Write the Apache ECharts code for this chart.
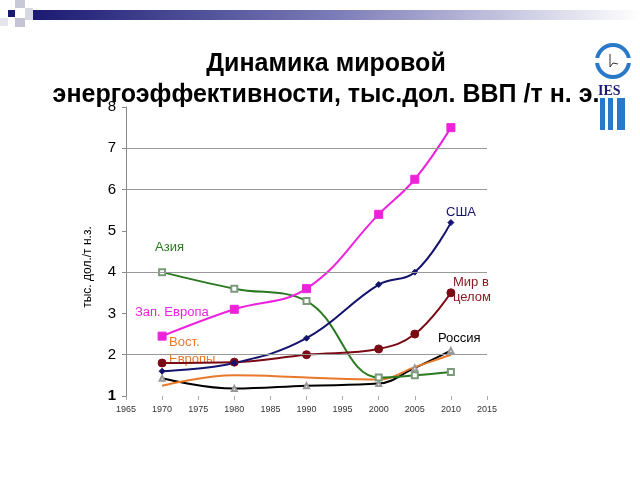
<!DOCTYPE html>
<html><head><meta charset="utf-8">
<script src="https://cdn.jsdelivr.net/npm/echarts@6/dist/echarts.min.js"></script>
<style>html,body{margin:0;padding:0;background:#fff}#c{width:640px;height:480px}</style>
</head><body><div id="c"></div>
<script>
const years = [1970, 1980, 1990, 2000, 2005, 2010];
const westEurope = [2.45, 3.1, 3.6, 5.4, 6.25, 7.5];
const usa = [1.6, 1.8, 2.4, 3.7, 4.0, 5.2];
const asia = [4.0, 3.6, 3.3, 1.45, 1.5, 1.58];
const world = [1.8, 1.82, 2.0, 2.14, 2.5, 3.5];
const eastEurope = [1.25, 1.5, 1.45, 1.4, 1.7, 2.0];
const russia = [1.43, 1.18, 1.25, 1.3, 1.68, 2.1];
const gridValues = [2, 4, 6, 7];
const titleText = 'Динамика мировой\nэнергоэффективности, тыс.дол. ВВП /т н. э.';
const yName = 'тыс. дол./т н.з.';

const pair = arr => years.map((y, i) => [y, arr[i]]);
const font = 'Liberation Sans, Arial, sans-serif';

function ser(name, data, color, symbol, size, extra) {
  return Object.assign({
    name, type: 'line', data: pair(data), smooth: 0.4,
    symbol, symbolSize: size,
    lineStyle: { color, width: 2 },
    itemStyle: { color, borderColor: color },
    z: 3
  }, extra || {});
}

const chart = echarts.init(document.getElementById('c'));
chart.setOption({
  animation: false,
  title: {
    text: titleText, left: 321, top: 44, textAlign: 'center',
    textStyle: { fontFamily: font, fontSize: 25, fontWeight: 'bold', color: '#000', lineHeight: 31 }
  },
  grid: { left: 126, right: 153, top: 107, bottom: 84 },
  xAxis: {
    type: 'value', min: 1965, max: 2015, interval: 5,
    axisLine: { show: false },
    axisTick: { show: true, length: 4, inside: false, lineStyle: { color: '#aaa' } },
    splitLine: { show: false },
    axisLabel: { fontFamily: font, fontSize: 9, color: '#333', margin: 9, formatter: v => String(v) }
  },
  yAxis: {
    type: 'value', min: 1, max: 8, interval: 1,
    axisLine: { show: true, lineStyle: { color: '#888', width: 1 } },
    axisTick: { show: true, length: 4, lineStyle: { color: '#888' } },
    splitLine: { show: false },
    axisLabel: { fontFamily: font, fontSize: 15, color: '#000', margin: 10,
      formatter: v => v === 1 ? '{b|1}' : String(v),
      rich: { b: { fontFamily: font, fontSize: 15, fontWeight: 'bold', color: '#000' } } }
  },
  series: [
    { type: 'line', data: [], silent: true,
      markLine: { silent: true, symbol: 'none', label: { show: false },
        lineStyle: { color: '#999', width: 1, type: 'solid' },
        data: gridValues.map(v => ({ yAxis: v })) } },
    ser('Россия', russia, '#000000', 'emptyTriangle', 5, { itemStyle: { color: '#999', borderColor: '#999' } }),
    ser('Вост. Европы', eastEurope, '#e8782a', 'none', 0),
    ser('Азия', asia, '#2a7a1f', 'emptyRect', 6, { itemStyle: { color: '#7a9a7a', borderColor: '#7a9a7a' } }),
    ser('Мир в целом', world, '#7a0a14', 'circle', 8),
    ser('США', usa, '#14146e', 'diamond', 6),
    ser('Зап. Европа', westEurope, '#ee22dd', 'rect', 8)
  ],
  graphic: [
    { type: 'rect', shape: { x: 32, y: 10, width: 608, height: 10 },
      style: { fill: new echarts.graphic.LinearGradient(0, 0, 1, 0, [
        { offset: 0, color: '#1a1a72' }, { offset: 0.5, color: '#7c7cb8' }, { offset: 1, color: '#ffffff' }]) } },
    { type: 'rect', shape: { x: 8, y: 10, width: 7, height: 7 }, style: { fill: '#1a1a72' } },
    { type: 'rect', shape: { x: 15, y: 0, width: 10, height: 8 }, style: { fill: '#c8c8d8' } },
    { type: 'rect', shape: { x: 25, y: 8, width: 8, height: 12 }, style: { fill: '#d8d8e4' } },
    { type: 'rect', shape: { x: 15, y: 18, width: 10, height: 9 }, style: { fill: '#c4c4d4' } },
    { type: 'rect', shape: { x: 0, y: 18, width: 8, height: 8 }, style: { fill: '#e4e4ec' } },
    { type: 'text', x: 88, y: 267, rotation: Math.PI / 2,
      style: { text: yName, fill: '#000', font: '12px ' + font, align: 'center', verticalAlign: 'middle' } },
    { type: 'text', left: 155, top: 241, style: { text: 'Азия', fill: '#2a7a1f', font: '13px ' + font } },
    { type: 'text', left: 135, top: 306, style: { text: 'Зап. Европа', fill: '#ee22dd', font: '13px ' + font } },
    { type: 'text', left: 169, top: 334, style: { text: 'Вост.\nЕвропы', fill: '#e8782a', font: '13px ' + font, lineHeight: 17 } },
    { type: 'text', left: 446, top: 206, style: { text: 'США', fill: '#14146e', font: '13px ' + font } },
    { type: 'text', left: 453, top: 275, style: { text: 'Мир в\nцелом', fill: '#8a1a24', font: '13px ' + font, lineHeight: 15 } },
    { type: 'text', left: 438, top: 332, style: { text: 'Россия', fill: '#000', font: '13px ' + font } },
    { type: 'ring', shape: { cx: 613, cy: 61, r: 18, r0: 14 }, style: { fill: '#2a78c8' } },
    { type: 'rect', shape: { x: 592, y: 58, width: 42, height: 5 }, style: { fill: '#fff' } },
    { type: 'polyline', shape: { points: [[610, 54], [610, 67], [613, 63], [618, 64]] }, style: { stroke: '#333', lineWidth: 1, fill: null } },
    { type: 'text', left: 598, top: 84, style: { text: 'IES', fill: '#1a1a72', font: 'bold 14px "Liberation Serif", serif' } },
    { type: 'rect', shape: { x: 600, y: 98, width: 5, height: 32 }, style: { fill: '#2a78c8' } },
    { type: 'rect', shape: { x: 608, y: 98, width: 5, height: 32 }, style: { fill: '#2a78c8' } },
    { type: 'rect', shape: { x: 617, y: 98, width: 8, height: 32 }, style: { fill: '#2a78c8' } }
  ]
});
</script></body></html>
